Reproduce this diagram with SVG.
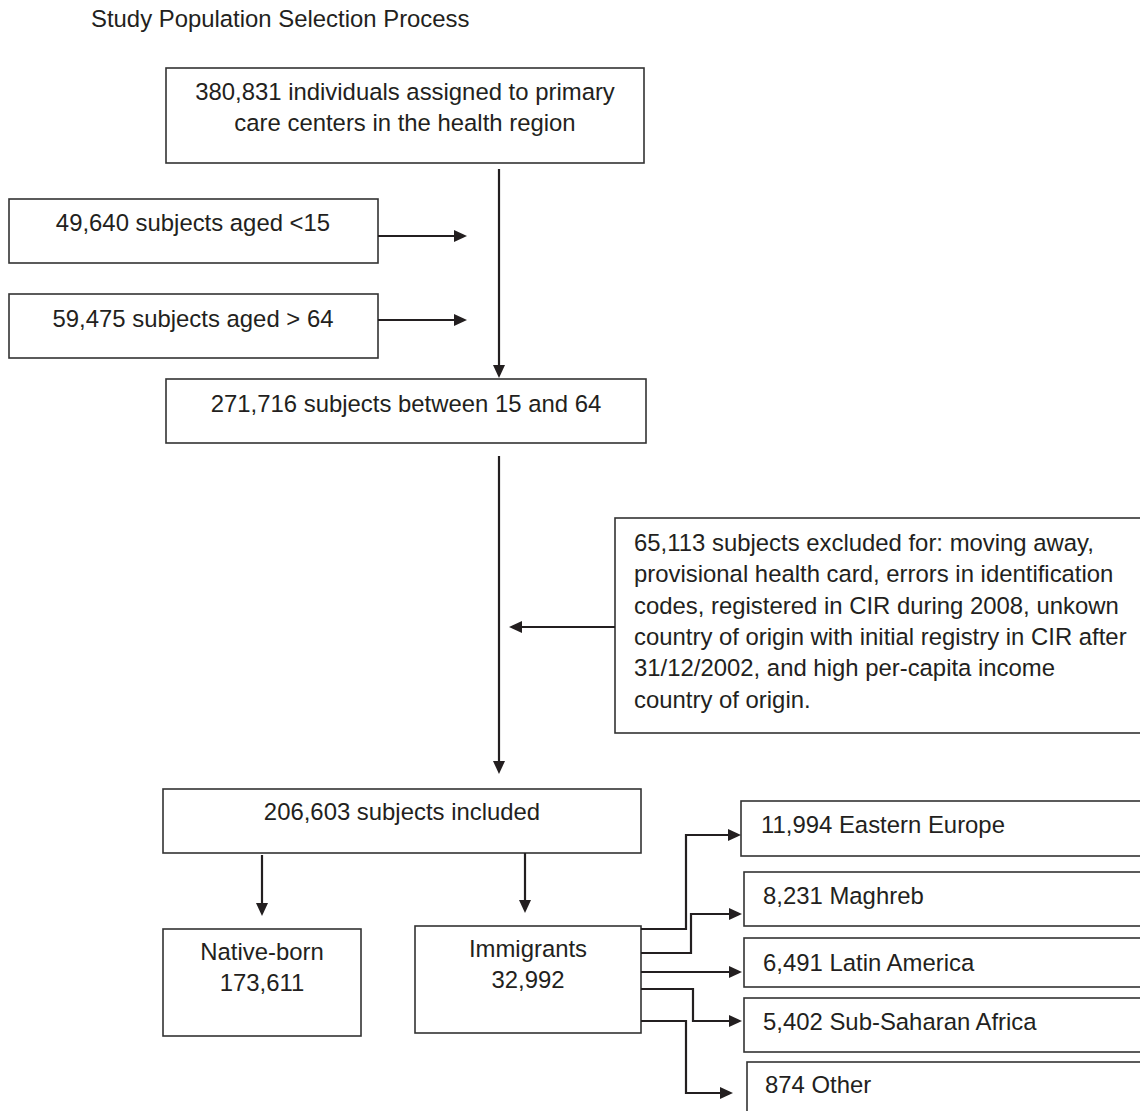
<svg xmlns="http://www.w3.org/2000/svg" width="1140" height="1111" viewBox="0 0 1140 1111">
<style>
  .box { fill: #ffffff; stroke: #333333; stroke-width: 1.6; }
  .t { font-family: "Liberation Sans", Arial, sans-serif; font-size: 23.9px; fill: #231f20; }
  .c { text-anchor: middle; }
  .conn { fill: none; stroke: #231f20; stroke-width: 2.2; }
</style>
<defs>
  <marker id="arr" viewBox="0 0 13 12" markerWidth="13" markerHeight="12" markerUnits="userSpaceOnUse" refX="0" refY="6" orient="auto">
    <path d="M0,0 L13,6 L0,12 z" fill="#231f20"/>
  </marker>
</defs>
<rect width="1140" height="1111" fill="#ffffff"/>
<text class="t" x="91" y="27">Study Population Selection Process</text>

<g id="n-total">
  <rect class="box" x="166" y="68" width="478" height="95"/>
  <text class="t c" x="405" y="100">380,831 individuals assigned to primary</text>
  <text class="t c" x="405" y="131">care centers in the health region</text>
</g>
<g id="n-under15">
  <rect class="box" x="9" y="199" width="369" height="64"/>
  <text class="t c" x="193" y="231">49,640 subjects aged &lt;15</text>
</g>
<g id="n-over64">
  <rect class="box" x="9" y="294" width="369" height="64"/>
  <text class="t c" x="193" y="327">59,475 subjects aged &gt; 64</text>
</g>
<g id="n-15to64">
  <rect class="box" x="166" y="379" width="480" height="64"/>
  <text class="t c" x="406" y="412">271,716 subjects between 15 and 64</text>
</g>
<g id="n-excluded">
  <rect class="box" x="615" y="518" width="560" height="215"/>
  <text class="t" x="634" y="551">65,113 subjects excluded for: moving away,</text>
  <text class="t" x="634" y="582">provisional health card, errors in identification</text>
  <text class="t" x="634" y="614">codes, registered in CIR during 2008, unkown</text>
  <text class="t" x="634" y="645">country of origin with initial registry in CIR after</text>
  <text class="t" x="634" y="676">31/12/2002, and high per-capita income</text>
  <text class="t" x="634" y="708">country of origin.</text>
</g>
<g id="n-included">
  <rect class="box" x="163" y="789" width="478" height="64"/>
  <text class="t c" x="402" y="820">206,603 subjects included</text>
</g>
<g id="n-native">
  <rect class="box" x="163" y="929" width="198" height="107"/>
  <text class="t c" x="262" y="960">Native-born</text>
  <text class="t c" x="262" y="991">173,611</text>
</g>
<g id="n-immigrants">
  <rect class="box" x="415" y="926" width="226" height="107"/>
  <text class="t c" x="528" y="957">Immigrants</text>
  <text class="t c" x="528" y="988">32,992</text>
</g>
<g id="n-easteu">
  <rect class="box" x="741" y="801" width="430" height="55"/>
  <text class="t" x="761" y="833">11,994 Eastern Europe</text>
</g>
<g id="n-maghreb">
  <rect class="box" x="744" y="872" width="430" height="54"/>
  <text class="t" x="763" y="904">8,231 Maghreb</text>
</g>
<g id="n-latam">
  <rect class="box" x="744" y="938" width="430" height="49"/>
  <text class="t" x="763" y="971">6,491 Latin America</text>
</g>
<g id="n-ssafrica">
  <rect class="box" x="744" y="998" width="430" height="54"/>
  <text class="t" x="763" y="1030">5,402 Sub-Saharan Africa</text>
</g>
<g id="n-other">
  <rect class="box" x="747" y="1062" width="430" height="80"/>
  <text class="t" x="765" y="1093">874 Other</text>
</g>

<g id="connectors">
  <path class="conn" d="M499,169 V365" marker-end="url(#arr)"/>
  <path class="conn" d="M378,236 H454" marker-end="url(#arr)"/>
  <path class="conn" d="M378,320 H454" marker-end="url(#arr)"/>
  <path class="conn" d="M499,456 V761" marker-end="url(#arr)"/>
  <path class="conn" d="M615,627 H522" marker-end="url(#arr)"/>
  <path class="conn" d="M262,855 V903" marker-end="url(#arr)"/>
  <path class="conn" d="M525,853 V900" marker-end="url(#arr)"/>
  <path class="conn" d="M641,929 H686 V835 H728" marker-end="url(#arr)"/>
  <path class="conn" d="M641,953 H691 V914 H729" marker-end="url(#arr)"/>
  <path class="conn" d="M641,972 H729" marker-end="url(#arr)"/>
  <path class="conn" d="M641,989 H693 V1021 H729" marker-end="url(#arr)"/>
  <path class="conn" d="M641,1021 H686 V1093 H720" marker-end="url(#arr)"/>
</g>
</svg>
